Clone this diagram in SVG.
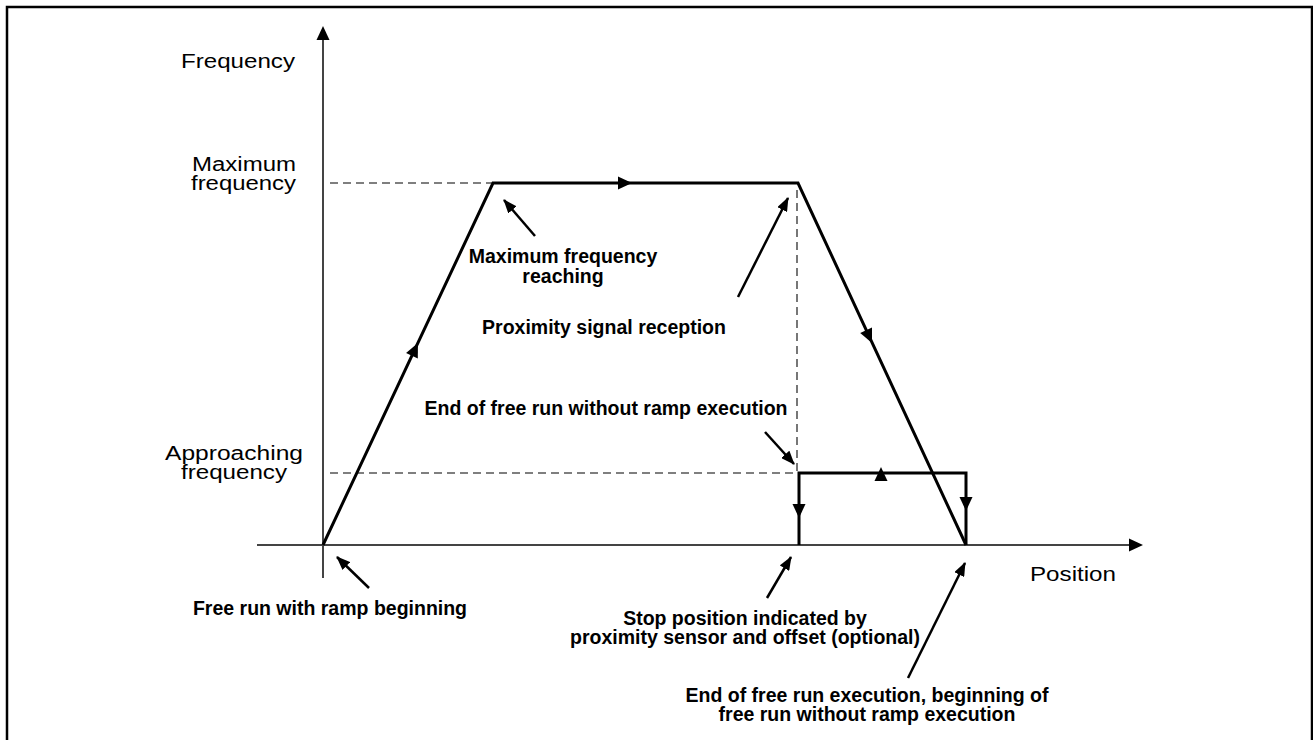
<svg xmlns="http://www.w3.org/2000/svg" xmlns:xlink="http://www.w3.org/1999/xlink" width="1313" height="740" viewBox="0 0 1313 740">
<style>
.frame{fill:none;stroke:#000;stroke-width:2.5}
.axis{fill:none;stroke:#444;stroke-width:2}
.dash{fill:none;stroke:#555;stroke-width:1.6;stroke-dasharray:8 5}
.curve{fill:none;stroke:#000;stroke-width:3;stroke-linejoin:miter}
.ptr{fill:none;stroke:#000;stroke-width:2.5}
.reg{font-family:"Liberation Sans",Arial,sans-serif;font-size:20px;fill:#000}
.bold{font-family:"Liberation Sans",Arial,sans-serif;font-size:19.5px;font-weight:bold;fill:#000;text-anchor:middle}
</style>
<defs>
<path id="head" d="M0,0 L-14,-6.5 L-14,6.5 Z" fill="#000"/>
<marker id="ah" viewBox="0 0 14 11" refX="13" refY="5.5" markerWidth="14" markerHeight="11" markerUnits="userSpaceOnUse" orient="auto">
<path d="M0,0 L14,5.5 L0,11 Z" fill="#000"/>
</marker>
</defs>
<rect class="frame" x="7" y="7" width="1305" height="800"/>
<g id="axes">
<line class="axis" x1="323" y1="36" x2="323" y2="578"/>
<use xlink:href="#head" transform="translate(323,26) rotate(-90)"/>
<line class="axis" x1="257" y1="545" x2="1133" y2="545"/>
<use xlink:href="#head" transform="translate(1143,545)"/>
</g>
<g id="guides">
<line class="dash" x1="330" y1="183" x2="493" y2="183"/>
<line class="dash" x1="797" y1="190" x2="797" y2="473"/>
<line class="dash" x1="330" y1="473" x2="797" y2="473"/>
</g>
<g id="profile">
<polyline class="curve" points="323,545 493,183 798,183 966,545"/>
<polyline class="curve" points="799,545 799,473 966,473 966,545"/>
<use xlink:href="#head" transform="translate(417.9,343) rotate(-64.8)"/>
<use xlink:href="#head" transform="translate(632,183)"/>
<use xlink:href="#head" transform="translate(872,343) rotate(65.1)"/>
<use xlink:href="#head" transform="translate(799,518) rotate(90)"/>
<use xlink:href="#head" transform="translate(966,511) rotate(90)"/>
<use xlink:href="#head" transform="translate(881,467) rotate(-90)"/>
</g>
<g id="axis-labels">
<text class="reg" x="181" y="68" textLength="114" lengthAdjust="spacingAndGlyphs">Frequency</text>
<text class="reg" x="192" y="171" textLength="104" lengthAdjust="spacingAndGlyphs">Maximum</text>
<text class="reg" x="191" y="190" textLength="105" lengthAdjust="spacingAndGlyphs">frequency</text>
<text class="reg" x="165" y="460" textLength="138" lengthAdjust="spacingAndGlyphs">Approaching</text>
<text class="reg" x="181" y="479" textLength="106" lengthAdjust="spacingAndGlyphs">frequency</text>
<text class="reg" x="1030" y="581" textLength="86" lengthAdjust="spacingAndGlyphs">Position</text>
</g>
<g id="connectors">
<line class="ptr" x1="535" y1="236" x2="504" y2="200" marker-end="url(#ah)"/>
<line class="ptr" x1="738" y1="297" x2="788" y2="198" marker-end="url(#ah)"/>
<line class="ptr" x1="765" y1="432" x2="794" y2="464" marker-end="url(#ah)"/>
<line class="ptr" x1="369" y1="588" x2="337" y2="557" marker-end="url(#ah)"/>
<line class="ptr" x1="767" y1="598" x2="791" y2="557" marker-end="url(#ah)"/>
<line class="ptr" x1="908" y1="678" x2="965" y2="563" marker-end="url(#ah)"/>
</g>
<g id="label-max-reach">
<text class="bold" x="563" y="263">Maximum frequency</text>
<text class="bold" x="563" y="283">reaching</text>
</g>
<g id="label-proximity">
<text class="bold" x="604" y="334">Proximity signal reception</text>
</g>
<g id="label-end-noramp">
<text class="bold" x="606" y="415">End of free run without ramp execution</text>
</g>
<g id="label-free-run">
<text class="bold" x="330" y="615">Free run with ramp beginning</text>
</g>
<g id="label-stop">
<text class="bold" x="745" y="625">Stop position indicated by</text>
<text class="bold" x="745" y="644">proximity sensor and offset (optional)</text>
</g>
<g id="label-end-exec">
<text class="bold" x="867" y="702">End of free run execution, beginning of</text>
<text class="bold" x="867" y="721">free run without ramp execution</text>
</g>
</svg>
